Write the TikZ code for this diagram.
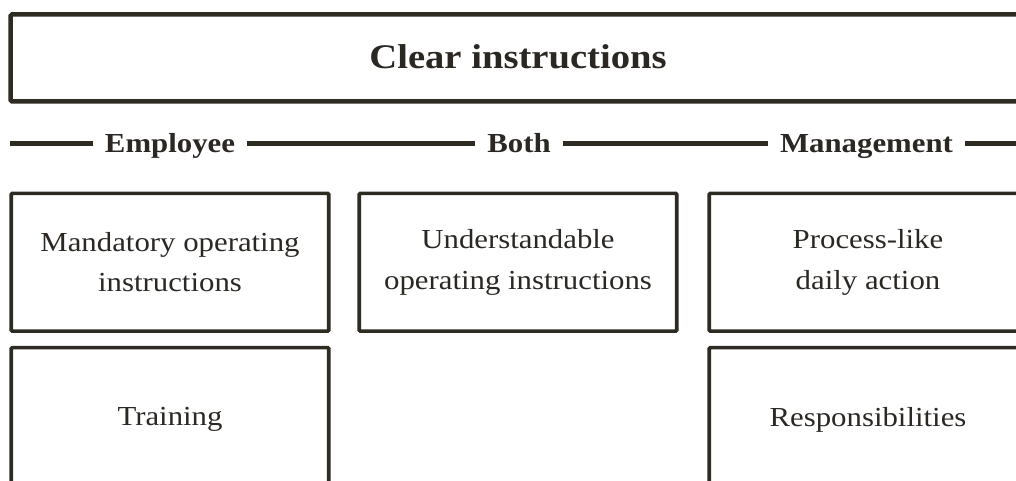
\documentclass[tikz,border=0pt]{standalone}
\usepackage{fontspec}
\setmainfont{Liberation Serif}[FakeStretch=1.12]
\definecolor{ink}{HTML}{2E2B22}
\definecolor{txt}{HTML}{2B2824}
\tikzset{
  titlebox/.style={draw=ink, line width=4.5pt, rounded corners=1.5pt,
    minimum width=1017pt, minimum height=87pt, inner sep=0pt, text=txt},
  titletext/.style={inner sep=0pt, anchor=base,
    font=\fontsize{34.5}{40}\selectfont\bfseries, text=txt},
  itembox/.style={draw=ink, line width=3.6pt, rounded corners=1pt,
    minimum width=317.5pt, minimum height=137.7pt, inner sep=0pt,
    align=center, font=\fontsize{27.5}{40.7}\selectfont, text=txt},
  lowbox/.style={itembox, minimum height=143.7pt},
  grouplabel/.style={fill=white, inner xsep=12pt, inner ysep=4pt, anchor=base,
    font=\fontsize{27.5}{30}\selectfont\bfseries, text=txt},
  rule/.style={draw=ink, line width=4.5pt}
}
\begin{document}
\begin{tikzpicture}[x=1pt, y=-1pt]
  \clip (0,0) rectangle (1016,481);
  \fill[white] (0,0) rectangle (1016,481);

  % heading
  \node[titlebox] (title) at (519, 58) {};
  \node[titletext] (titlelbl) at (518, 69) {Clear instructions};

  % divider with the three group names
  \coordinate (ruleL) at (10, 143.5);
  \coordinate (ruleR) at (1030, 143.5);
  \draw[rule] (ruleL) -- (ruleR);
  \node[grouplabel] (emp) at (170, 152.3) {Employee};
  \node[grouplabel] (both) at (519, 152.3) {Both};
  \node[grouplabel] (mgmt) at (866.5, 152.3) {Management};

  % first row
  \node[itembox] (mand) at (170, 262.2) {Mandatory operating\\instructions};
  \node[itembox] (under) at (518, 262.2) {Understandable\\operating instructions};
  \node[itembox] (proc) at (868, 262.2) {Process-like\\daily action};

  % second row (boxes run past the lower edge)
  \node[lowbox] (train) at (170, 419.4) {Training};
  \node[lowbox] (resp) at (868, 419.4) {Responsibilities};
\end{tikzpicture}
\end{document}
